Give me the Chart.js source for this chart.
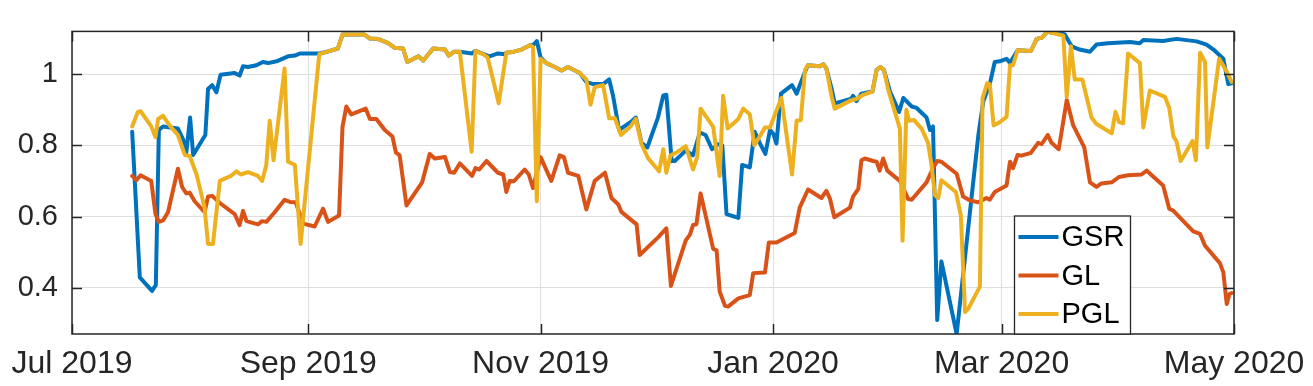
<!DOCTYPE html>
<html>
<head>
<meta charset="utf-8">
<script src="https://cdn.jsdelivr.net/npm/chart.js@4"></script>
<style>
  html, body { margin: 0; padding: 0; background: #fff; }
  canvas { display: block; }
</style>
</head>
<body>
<canvas id="chart" width="1313" height="386"></canvas>
<script>
// x values are days since 2019-07-01
const tickDays = [0, 62, 123, 184, 244, 305];
const tickLabels = ['Jul 2019', 'Sep 2019', 'Nov 2019', 'Jan 2020', 'Mar 2020', 'May 2020'];
const yTicks = [0.4, 0.6, 0.8, 1];
const seriesNames = ['GSR', 'GL', 'PGL'];

const gsrDays = [15.8, 17.8, 21.0, 22.0, 22.8, 23.9, 27.8, 29.2, 30.0, 31.0, 31.8, 35.0, 35.7, 36.8, 37.9, 39.0,
  42.7, 44.0, 44.9, 46.2, 48.4, 50.1, 51.5, 53.7, 56.7, 58.5, 59.8, 65.0, 66.6, 69.8, 71.0, 76.8, 78.2, 80.3,
  83.0, 84.7, 86.9, 88.0, 90.4, 90.9, 92.2, 94.8, 97.9, 98.9, 100.3, 101.8, 105.0, 105.9, 109.6, 111.8, 113.6,
  114.0, 116.0, 118.0, 120.2, 121.0, 122.0, 123.0, 124.5, 126.7, 128.5, 130.2, 133.3, 135.0, 136.8, 139.4,
  141.0, 142.0, 143.6, 146.6, 148.0, 149.5, 151.0, 153.8, 155.2, 156.0, 157.4, 158.2, 161.1, 163.0, 164.8,
  166.3, 168.0, 169.6, 170.7, 171.8, 174.9, 175.9, 177.9, 179.2, 180.5, 182.0, 183.2, 184.1, 184.9, 186.1,
  189.0, 190.2, 192.4, 193.2, 196.3, 197.2, 198.0, 199.4, 200.2, 204.4, 205.0, 205.9, 207.2, 210.1, 211.2,
  212.2, 213.1, 214.7, 217.1, 218.2, 220.4, 221.7, 224.3, 225.2, 226.0, 227.1, 228.2, 232.2, 237.9, 239.2,
  240.9, 242.2, 243.5, 245.3, 246.2, 248.2, 251.7, 253.2, 254.5, 256.1, 257.1, 259.3, 260.6, 262.4, 264.5,
  267.2, 268.9, 271.9, 277.7, 280.3, 281.2, 286.4, 289.9, 295.2, 297.8, 299.6, 302.2, 303.5, 304.4];
const gsrValues = [0.838, 0.429, 0.391, 0.407, 0.843, 0.853, 0.847, 0.816, 0.780, 0.878, 0.773, 0.829, 0.958, 0.969, 0.949, 0.998,
  1.003, 0.996, 1.022, 1.020, 1.025, 1.034, 1.031, 1.036, 1.050, 1.052, 1.058, 1.058, 1.062, 1.072, 1.111, 1.111, 1.100, 1.099,
  1.087, 1.074, 1.072, 1.034, 1.047, 1.050, 1.038, 1.072, 1.069, 1.052, 1.063, 1.063, 1.058, 1.065, 1.050, 1.058, 1.056,
  1.060, 1.063, 1.069, 1.081, 1.081, 1.093, 1.047, 1.031, 1.020, 1.010, 1.020, 1.003, 0.978, 0.972, 0.972,
  0.985, 0.940, 0.843, 0.865, 0.878, 0.807, 0.794, 0.878, 0.940, 0.942, 0.756, 0.756, 0.785, 0.772, 0.836,
  0.829, 0.789, 0.803, 0.800, 0.607, 0.596, 0.745, 0.738, 0.838, 0.807, 0.776, 0.843, 0.832, 0.805, 0.945,
  0.969, 0.945, 1.007, 1.025, 1.022, 1.028, 1.016, 0.958, 0.918, 0.930, 0.939, 0.924, 0.945, 0.951, 1.012,
  1.020, 1.012, 0.951, 0.894, 0.933, 0.909, 0.905, 0.878, 0.843, 0.853, 0.309, 0.474, 0.270, 0.829, 0.924,
  0.972, 1.034, 1.036, 1.043, 1.031, 1.067, 1.065, 1.099, 1.102, 1.120, 1.116, 1.118, 1.111, 1.078, 1.069,
  1.063, 1.083, 1.087, 1.090, 1.087, 1.096, 1.093, 1.099, 1.092, 1.083, 1.069, 1.043, 0.972, 0.974];

const glDays = [15.8, 16.9, 18.0, 20.8, 21.9, 22.8, 23.9, 25.2, 27.8, 28.9, 30.0, 30.9, 32.2, 34.8, 35.7, 36.8,
  38.8, 42.7, 44.0, 44.9, 45.8, 48.8, 49.9, 51.0, 53.2, 55.8, 57.2, 58.7, 60.7, 63.7, 65.9, 67.2, 70.1, 71.0,
  72.0, 73.3, 77.1, 78.2, 79.9, 82.1, 84.1, 85.0, 86.0, 87.8, 91.9, 93.9, 95.2, 97.9, 99.2, 100.3, 101.8,
  105.0, 105.9, 106.9, 108.8, 111.8, 113.2, 114.0, 114.9, 116.0, 118.8, 119.9, 121.0, 123.0, 125.8, 128.0,
  129.1, 130.2, 132.9, 135.0, 137.2, 139.9, 141.6, 143.4, 144.2, 148.2, 149.0, 153.9, 156.0, 157.2, 161.1,
  162.2, 163.0, 163.9, 165.0, 168.3, 169.2, 170.0, 171.4, 172.2, 174.9, 177.9, 178.8, 181.9, 182.9, 184.9,
  189.7, 191.0, 193.2, 196.7, 198.0, 198.9, 200.1, 204.2, 205.0, 206.4, 207.2, 208.1, 210.3, 211.2, 212.0,
  212.9, 214.0, 217.3, 219.5, 220.4, 224.3, 226.0, 227.1, 228.2, 232.2, 233.9, 235.7, 237.9, 240.0, 240.9,
  242.2, 245.3, 246.2, 247.0, 248.2, 249.2, 251.7, 253.6, 254.5, 256.1, 257.1, 259.0, 261.1, 262.8, 265.7,
  267.2, 268.9, 270.2, 272.9, 274.8, 277.2, 280.7, 282.1, 283.4, 286.4, 288.0, 289.1, 294.3, 296.1, 297.4,
  301.3, 302.2, 303.1, 303.8, 304.4];
const glValues = [0.714, 0.702, 0.716, 0.700, 0.607, 0.585, 0.589, 0.612, 0.734, 0.683, 0.665, 0.667, 0.643, 0.612, 0.656, 0.658,
  0.638, 0.607, 0.576, 0.616, 0.587, 0.578, 0.587, 0.585, 0.612, 0.647, 0.641, 0.640, 0.580, 0.572, 0.622, 0.585, 0.603, 0.852,
  0.909, 0.887, 0.903, 0.874, 0.874, 0.843, 0.825, 0.780, 0.772, 0.631, 0.696, 0.776, 0.763, 0.767, 0.725, 0.723, 0.749,
  0.714, 0.736, 0.732, 0.756, 0.723, 0.718, 0.669, 0.700, 0.699, 0.732, 0.718, 0.680, 0.767, 0.700, 0.772,
  0.767, 0.723, 0.714, 0.620, 0.700, 0.723, 0.652, 0.634, 0.613, 0.578, 0.492, 0.542, 0.567, 0.405, 0.533,
  0.549, 0.576, 0.578, 0.665, 0.509, 0.505, 0.389, 0.349, 0.347, 0.370, 0.379, 0.441, 0.443, 0.527, 0.527,
  0.554, 0.625, 0.676, 0.652, 0.672, 0.652, 0.598, 0.625, 0.656, 0.678, 0.758, 0.763, 0.756, 0.754, 0.729,
  0.763, 0.729, 0.700, 0.649, 0.647, 0.696, 0.736, 0.756, 0.754, 0.720, 0.656, 0.645, 0.640, 0.652, 0.647,
  0.669, 0.687, 0.754, 0.736, 0.773, 0.771, 0.779, 0.807, 0.803, 0.829, 0.807, 0.789, 0.927, 0.856, 0.794,
  0.696, 0.683, 0.693, 0.696, 0.711, 0.716, 0.718, 0.729, 0.716, 0.687, 0.622, 0.616, 0.558, 0.551, 0.518,
  0.469, 0.443, 0.354, 0.382, 0.385];

const pglDays = [15.8, 17.3, 18.0, 20.8, 21.9, 22.6, 23.9, 25.6, 27.8, 29.6, 30.9, 32.7, 34.8, 35.7, 37.0, 38.8,
  41.7, 43.2, 44.3, 46.2, 48.8, 49.9, 51.0, 51.9, 52.9, 55.8, 56.7, 58.5, 60.0, 64.9, 66.6, 69.8, 71.0, 76.8,
  78.2, 80.3, 83.0, 84.7, 86.9, 88.0, 90.4, 90.9, 92.2, 94.8, 97.9, 98.9, 100.3, 101.8, 104.9, 105.9, 107.9,
  109.1, 112.0, 114.0, 116.0, 118.0, 120.2, 121.0, 122.0, 123.0, 124.5, 126.7, 128.5, 130.2, 133.3, 135.0,
  136.1, 137.2, 139.4, 141.0, 142.5, 144.1, 146.6, 148.0, 149.5, 151.2, 154.1, 155.2, 156.0, 157.1, 158.7,
  161.1, 163.0, 164.1, 165.0, 168.3, 170.0, 170.9, 172.1, 174.9, 176.2, 177.9, 179.1, 181.9, 183.2, 186.2,
  189.0, 190.2, 191.3, 192.4, 193.2, 196.3, 197.2, 198.0, 199.4, 200.2, 204.6, 205.9, 207.7, 210.1, 211.2,
  212.2, 213.1, 214.2, 217.3, 218.0, 219.0, 219.7, 221.0, 223.0, 224.7, 225.6, 226.5, 227.4, 228.2, 232.0,
  233.3, 234.4, 235.2, 238.3, 239.0, 240.2, 240.9, 241.9, 243.5, 245.3, 246.2, 247.0, 248.2, 251.7, 253.2,
  254.5, 256.1, 257.1, 260.2, 261.1, 262.2, 263.2, 265.2, 267.6, 268.9, 272.9, 273.9, 274.8, 275.9, 277.2,
  280.3, 281.2, 282.9, 286.9, 288.0, 289.1, 289.9, 291.0, 294.1, 295.0, 296.1, 297.4, 298.0, 301.1, 303.1,
  304.4];
const pglValues = [0.853, 0.894, 0.896, 0.853, 0.823, 0.874, 0.883, 0.856, 0.829, 0.773, 0.770, 0.718, 0.625, 0.523, 0.523, 0.700,
  0.714, 0.727, 0.718, 0.725, 0.714, 0.700, 0.745, 0.869, 0.758, 1.016, 0.754, 0.745, 0.523, 1.056, 1.062, 1.072, 1.111, 1.111,
  1.100, 1.099, 1.087, 1.074, 1.072, 1.034, 1.047, 1.050, 1.038, 1.072, 1.069, 1.052, 1.063, 1.063, 0.782, 1.065, 1.056,
  1.047, 0.918, 1.060, 1.063, 1.069, 1.081, 1.076, 0.643, 1.043, 1.031, 1.020, 1.010, 1.020, 1.003, 0.985,
  0.914, 0.963, 0.969, 0.876, 0.876, 0.829, 0.853, 0.874, 0.803, 0.764, 0.727, 0.789, 0.723, 0.772, 0.780,
  0.798, 0.732, 0.767, 0.903, 0.852, 0.714, 0.939, 0.847, 0.874, 0.903, 0.887, 0.800, 0.850, 0.850, 0.933,
  0.718, 0.869, 0.871, 1.012, 1.025, 1.022, 1.028, 1.016, 0.936, 0.903, 0.927, 0.930, 0.942, 0.951, 1.012,
  1.020, 1.012, 0.958, 0.847, 0.532, 0.900, 0.869, 0.871, 0.847, 0.807, 0.745, 0.660, 0.652, 0.702, 0.669,
  0.603, 0.332, 0.340, 0.403, 0.932, 0.974, 0.972, 0.856, 0.865, 0.880, 1.025, 1.025, 1.067, 1.065, 1.099,
  1.102, 1.120, 1.116, 1.108, 0.936, 1.078, 0.985, 0.985, 0.878, 0.860, 0.834, 0.894, 0.865, 0.862, 1.058,
  1.031, 0.850, 0.954, 0.936, 0.905, 0.825, 0.812, 0.756, 0.812, 0.758, 1.060, 1.034, 0.794, 1.043, 1.007,
  0.978];

const FONT = 'Arial, "Liberation Sans", Helvetica, sans-serif';
const AXIS_COLOR = '#262626';

function toPoints(days, values) {
  return days.map((d, i) => ({ x: d, y: values[i] }));
}

// MATLAB-style box, inward ticks and framed legend
const matlabAxes = {
  id: 'matlabAxes',
  afterDraw(chart) {
    const { ctx, chartArea } = chart;
    const { left, right, top, bottom } = chartArea;
    const xs = chart.scales.x;
    const ys = chart.scales.y;
    const tl = 10;
    ctx.save();
    ctx.strokeStyle = AXIS_COLOR;
    ctx.lineWidth = 1.5;
    ctx.beginPath();
    tickDays.forEach((d) => {
      const px = Math.round(xs.getPixelForValue(d)) + 0.5;
      ctx.moveTo(px, bottom); ctx.lineTo(px, bottom - tl);
      ctx.moveTo(px, top); ctx.lineTo(px, top + tl);
    });
    yTicks.forEach((v) => {
      const py = Math.round(ys.getPixelForValue(v)) + 0.5;
      ctx.moveTo(left, py); ctx.lineTo(left + tl, py);
      ctx.moveTo(right, py); ctx.lineTo(right - tl, py);
    });
    ctx.stroke();
    ctx.strokeRect(left, top, right - left, bottom - top);

    // legend box
    const lw = 116, lh = 118;
    const lx = right - 104 - lw + 0.5, ly = bottom - lh;
    ctx.fillStyle = '#fff';
    ctx.fillRect(lx, ly, lw, lh);
    ctx.lineWidth = 1.3;
    ctx.strokeRect(lx, ly, lw, lh);
    ctx.font = '29px ' + FONT;
    ctx.textBaseline = 'middle';
    ctx.textAlign = 'left';
    chart.data.datasets.forEach((ds, i) => {
      const rowY = ly + 21 + i * 38.5;
      ctx.strokeStyle = ds.borderColor;
      ctx.lineWidth = 4;
      ctx.beginPath();
      ctx.moveTo(lx + 4, rowY); ctx.lineTo(lx + 44, rowY);
      ctx.stroke();
      ctx.fillStyle = '#000';
      ctx.fillText(ds.label, lx + 47, rowY + 1);
    });
    ctx.restore();
  }
};

new Chart(document.getElementById('chart'), {
  type: 'line',
  data: {
    datasets: [
      { label: seriesNames[0], data: toPoints(gsrDays, gsrValues), borderColor: '#0072BD', order: 3 },
      { label: seriesNames[1], data: toPoints(glDays, glValues), borderColor: '#D95319', order: 2 },
      { label: seriesNames[2], data: toPoints(pglDays, pglValues), borderColor: '#EDB120', order: 1 },
    ],
  },
  options: {
    responsive: false,
    animation: false,
    devicePixelRatio: 1,
    layout: { padding: { top: 16, right: 79, left: 0, bottom: 0 } },
    elements: {
      line: { borderWidth: 4, tension: 0, fill: false, borderJoinStyle: 'round', borderCapStyle: 'round' },
      point: { radius: 0, hoverRadius: 0 },
    },
    plugins: { legend: { display: false }, tooltip: { enabled: false } },
    scales: {
      x: {
        type: 'linear',
        min: 0,
        max: 305,
        afterBuildTicks: (s) => { s.ticks = tickDays.map((v) => ({ value: v })); },
        afterFit: (s) => { s.height = 52; s.paddingRight = 0; s.paddingLeft = 0; },
        ticks: {
          autoSkip: false,
          maxRotation: 0,
          padding: 11,
          color: AXIS_COLOR,
          font: { family: FONT, size: 32 },
          callback: (v, i) => tickLabels[i],
        },
        grid: { color: '#dfdfdf', lineWidth: 1, drawTicks: false },
        border: { display: false },
      },
      y: {
        min: 0.27,
        max: 1.12,
        afterBuildTicks: (s) => { s.ticks = yTicks.map((v) => ({ value: v })); },
        afterFit: (s) => { s.width = 72; },
        ticks: {
          padding: 14,
          color: AXIS_COLOR,
          font: { family: FONT, size: 29 },
          callback: (v) => (v === 1 ? '1' : v.toFixed(1)),
        },
        grid: { color: '#dfdfdf', lineWidth: 1, drawTicks: false },
        border: { display: false },
      },
    },
  },
  plugins: [matlabAxes],
});
</script>
</body>
</html>
